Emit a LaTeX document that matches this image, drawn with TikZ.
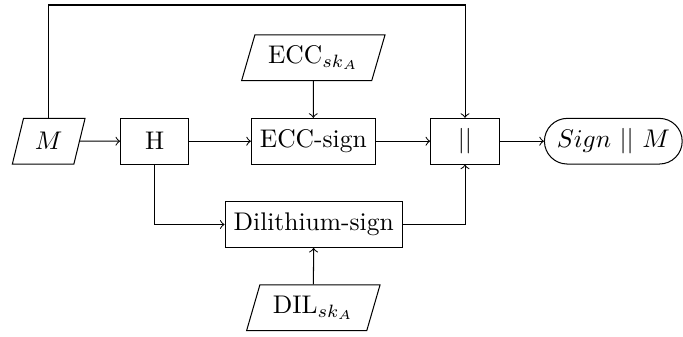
\documentclass[tikz,border=0pt]{standalone}
\usetikzlibrary{shapes.geometric,shapes.misc}
\begin{document}
\begin{tikzpicture}[x=0.392pt,y=-0.392pt,
  box/.style={draw, rectangle, minimum height=17.9pt, inner sep=3.33pt},
  io/.style={draw, trapezium, trapezium left angle=72, trapezium right angle=108,
    trapezium stretches body, minimum height=17.9pt, inner sep=3.33pt},
  term/.style={draw, rounded rectangle, minimum height=17.9pt, inner sep=3.33pt},
  conn/.style={->}]
\useasboundingbox (0,0) rectangle (683,336);
\node[io, minimum width=28.5pt] (M) at (48.7,141.2) {$M$};
\node[box, minimum width=26.8pt] (H) at (154.8,141.2) {H};
\node[box, minimum width=47.6pt] (ecc) at (313.3,141.2) {ECC-sign};
\node[io, minimum width=56.2pt] (eckey) at (313.3,57.8) {$\mathrm{ECC}_{sk_A}$};
\node[box, minimum width=26.9pt] (cat) at (465,141.2) {$||$};
\node[term, minimum width=52.3pt] (out) at (613.3,141.2) {$Sign\ ||\ M$};
\node[box, minimum width=69.5pt] (dil) at (313.7,224.5) {Dilithium-sign};
\node[io, minimum width=52.3pt] (dilkey) at (313.3,307.8) {$\mathrm{DIL}_{sk_A}$};
\coordinate (topline) at (0,5);
\draw[conn] (M) -- (H);
\draw[conn] (H) -- (ecc);
\draw[conn] (ecc) -- (cat);
\draw[conn] (cat) -- (out);
\draw[conn] (eckey) -- (ecc);
\draw[conn] (dilkey) -- (dil);
\draw[conn] (H.south) |- (dil.west);
\draw[conn] (dil.east) -| (cat.south);
\draw[conn] (M.north) -- (M.north |- topline) -| (cat.north);
\end{tikzpicture}
\end{document}
